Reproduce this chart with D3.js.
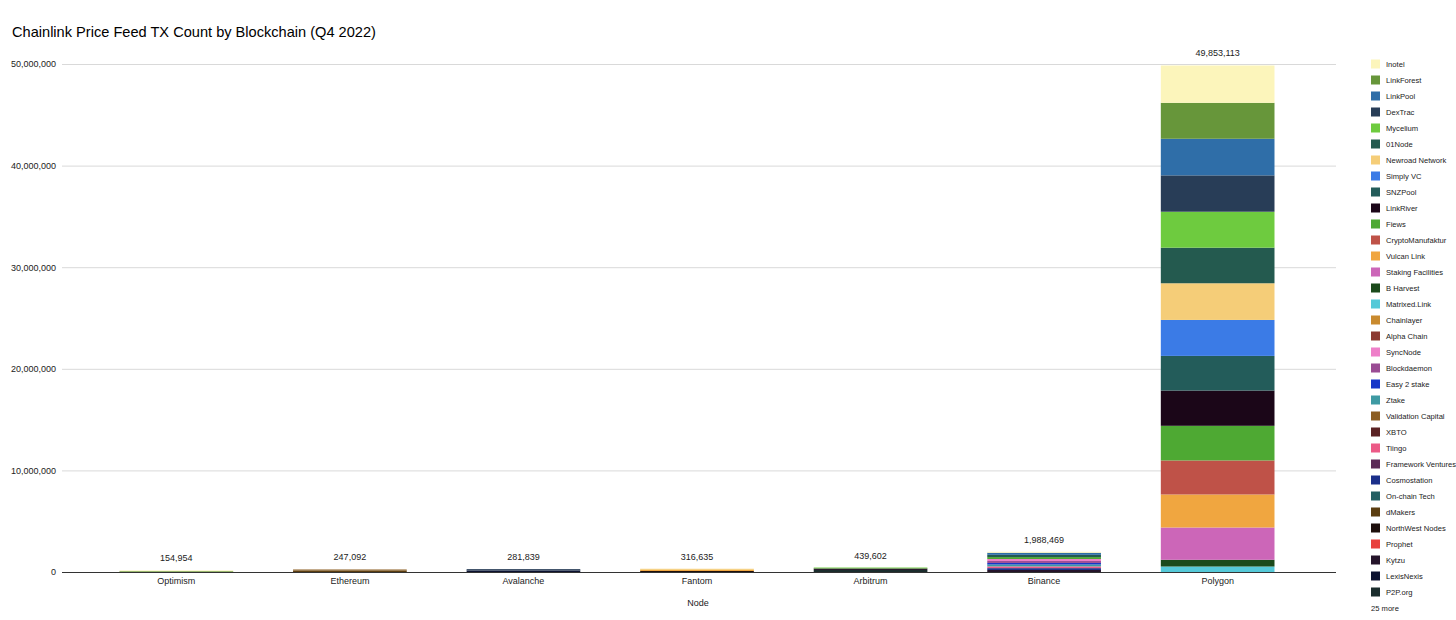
<!DOCTYPE html>
<html>
<head>
<meta charset="utf-8">
<script src="https://cdn.jsdelivr.net/npm/d3@7"></script>
<style>
  html, body { margin: 0; padding: 0; background: #fff; }
  svg { display: block; font-family: "Liberation Sans", Arial, sans-serif; }
</style>
</head>
<body>
<svg id="chart" width="1456" height="620"></svg>
<script>
// ---- data ----
const title = "Chainlink Price Feed TX Count by Blockchain (Q4 2022)";
const xAxisTitle = "Node";
const blockchains = ["Optimism", "Ethereum", "Avalanche", "Fantom", "Arbitrum", "Binance", "Polygon"];

// legend order (top of stack first)
const nodes = ["Inotel", "LinkForest", "LinkPool", "DexTrac", "Mycelium", "01Node", "Newroad Network",
  "Simply VC", "SNZPool", "LinkRiver", "Fiews", "CryptoManufaktur", "Vulcan Link", "Staking Facilities",
  "B Harvest", "Matrixed.Link", "Chainlayer", "Alpha Chain", "SyncNode", "Blockdaemon", "Easy 2 stake",
  "Ztake", "Validation Capital", "XBTO", "Tiingo", "Framework Ventures", "Cosmostation", "On-chain Tech",
  "dMakers", "NorthWest Nodes", "Prophet", "Kytzu", "LexisNexis", "P2P.org"];
const nodeColors = ["#fcf5bb", "#67963a", "#2f6ea8", "#283d57", "#6ecb3f", "#245a4f", "#f5cd78",
  "#3b7be6", "#235c5a", "#1b0618", "#4ea933", "#bf5248", "#f0a640", "#cc66b8",
  "#1b4a1b", "#55c9d8", "#c98a2e", "#8c3a32", "#ee7fc9", "#9a4c94", "#1636c8",
  "#3e9aa3", "#8c5e22", "#5a2223", "#ec5a87", "#5c2b58", "#1a2f8a", "#245f63",
  "#5b3d10", "#1d0f0c", "#e8403d", "#25142a", "#0c1230", "#1b2d2d"];
const moreLabel = "25 more";

// TX counts per node for each blockchain
const optimismTx = [["Inotel", 74954], ["LinkForest", 80000]];
const ethereumTx = [["Validation Capital", 97092], ["dMakers", 150000]];
const avalancheTx = [["DexTrac", 141839], ["LexisNexis", 140000]];
const fantomTx = [["Newroad Network", 106635], ["Vulcan Link", 110000], ["NorthWest Nodes", 100000]];
const arbitrumTx = [["Mycelium", 89602], ["Kytzu", 150000], ["P2P.org", 200000]];
const binanceTx = [["Inotel", 98469], ["LinkPool", 200000], ["01Node", 220000], ["Fiews", 190000],
  ["SyncNode", 200000], ["Blockdaemon", 190000], ["Easy 2 stake", 150000], ["Ztake", 190000],
  ["Tiingo", 170000], ["Cosmostation", 180000], ["Kytzu", 200000]];
const polygonTx = [["Inotel", 3673113], ["LinkForest", 3540000], ["LinkPool", 3600000], ["DexTrac", 3580000],
  ["Mycelium", 3540000], ["01Node", 3500000], ["Newroad Network", 3610000], ["Simply VC", 3540000],
  ["SNZPool", 3410000], ["LinkRiver", 3470000], ["Fiews", 3410000], ["CryptoManufaktur", 3350000],
  ["Vulcan Link", 3250000], ["Staking Facilities", 3180000], ["B Harvest", 660000], ["Matrixed.Link", 540000]];
const yTicks = [0, 10000000, 20000000, 30000000, 40000000, 50000000];

// ---- build table ----
const txByChain = [optimismTx, ethereumTx, avalancheTx, fantomTx, arbitrumTx, binanceTx, polygonTx];
const table = blockchains.map((b, i) => {
  const row = { chain: b };
  nodes.forEach(n => row[n] = 0);
  txByChain[i].forEach(([n, v]) => row[n] = v);
  return row;
});
const totals = table.map(r => d3.sum(nodes, n => r[n]));

// ---- layout ----
const svg = d3.select("#chart");
const plot = { left: 62, right: 1336, top: 64, bottom: 572 };

const x = d3.scaleBand().domain(blockchains).range([90, 1304]).paddingInner(0.345).paddingOuter(0.17);
const y = d3.scaleLinear().domain([0, 50000000]).range([plot.bottom, plot.top]);
const color = d3.scaleOrdinal().domain(nodes).range(nodeColors);

// stack: bottom-most series is last in legend
const stackKeys = nodes.slice().reverse();
const series = d3.stack().keys(stackKeys)(table);

// title
svg.append("text").attr("x", 12).attr("y", 37).attr("font-size", 14.6).attr("fill", "#000").text(title);

// gridlines + y axis
const yAxis = d3.axisLeft(y).tickValues(yTicks).tickFormat(d3.format(",")).tickSize(0).tickPadding(6);
const gy = svg.append("g").attr("transform", `translate(${plot.left},0)`).call(yAxis);
gy.select(".domain").remove();
gy.selectAll("text").attr("font-size", 9).attr("fill", "#222").attr("font-family", "Liberation Sans, Arial, sans-serif");
gy.selectAll(".tick").append("line")
  .attr("x1", 0).attr("x2", plot.right - plot.left)
  .attr("stroke", d => d === 0 ? "#333" : "#d9d9d9").attr("stroke-width", 1);

// bars
svg.append("g").selectAll("g").data(series).join("g")
  .attr("fill", d => color(d.key))
  .selectAll("rect").data(d => d.filter(s => s[1] > s[0])).join("rect")
  .attr("x", d => x(d.data.chain))
  .attr("width", x.bandwidth())
  .attr("y", d => y(d[1]))
  .attr("height", d => y(d[0]) - y(d[1]));

// redraw baseline on top
svg.append("line").attr("x1", plot.left).attr("x2", plot.right)
  .attr("y1", y(0) + 0.5).attr("y2", y(0) + 0.5).attr("stroke", "#333");

// total labels
svg.append("g").selectAll("text").data(blockchains).join("text")
  .attr("x", d => x(d) + x.bandwidth() / 2)
  .attr("y", (d, i) => y(totals[i]) - 9)
  .attr("text-anchor", "middle").attr("font-size", 9).attr("fill", "#222")
  .text((d, i) => d3.format(",")(totals[i]));

// x axis labels
const xAxis = d3.axisBottom(x).tickSize(0).tickPadding(6);
const gx = svg.append("g").attr("transform", `translate(0,${plot.bottom})`).call(xAxis);
gx.select(".domain").remove();
gx.selectAll("text").attr("font-size", 9).attr("fill", "#222").attr("font-family", "Liberation Sans, Arial, sans-serif");

svg.append("text").attr("x", 698).attr("y", 606)
  .attr("text-anchor", "middle").attr("font-size", 9).attr("fill", "#222").text(xAxisTitle);

// legend
const lg = svg.append("g").attr("transform", "translate(1371,64)");
const items = lg.selectAll("g").data(nodes).join("g").attr("transform", (d, i) => `translate(0,${i * 16})`);
items.append("rect").attr("x", 0).attr("y", -4.5).attr("width", 9).attr("height", 9).attr("fill", d => color(d));
items.append("text").attr("x", 15).attr("y", 3).attr("font-size", 7.6).attr("fill", "#222").text(d => d);
lg.append("text").attr("x", 0).attr("y", nodes.length * 16 + 3).attr("font-size", 7.6).attr("fill", "#222").text(moreLabel);
</script>
</body>
</html>
